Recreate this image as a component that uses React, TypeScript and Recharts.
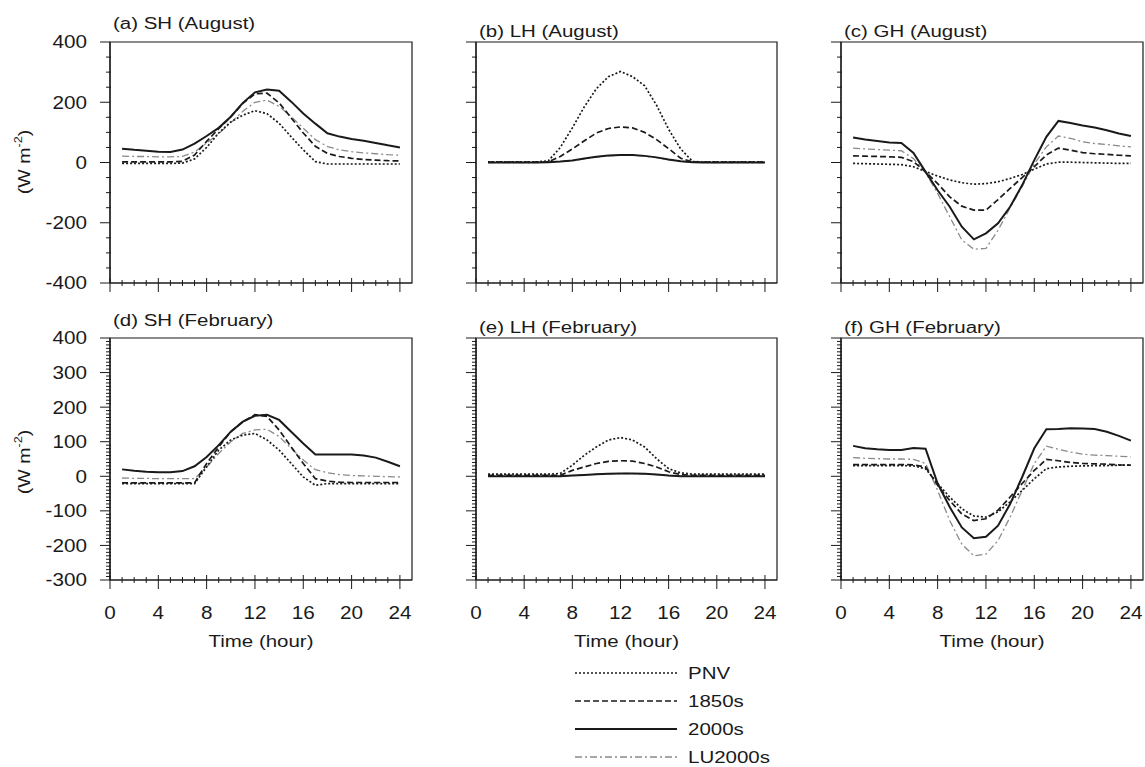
import { LineChart, Line, XAxis, YAxis, ReferenceArea } from 'recharts';

const FONT = '"Liberation Sans", Arial, Helvetica, sans-serif';
const INK = '#1a1a1a';
const STRETCH = 1.28;
const TICK_STRETCH = 1.15;

const HOURS = [1, 2, 3, 4, 5, 6, 7, 8, 9, 10, 11, 12, 13, 14, 15, 16, 17, 18, 19, 20, 21, 22, 23, 24];
const X_TICKS = [0, 1, 2, 3, 4, 5, 6, 7, 8, 9, 10, 11, 12, 13, 14, 15, 16, 17, 18, 19, 20, 21, 22, 23, 24];
const X_MAJOR = [0, 4, 8, 12, 16, 20, 24];

const TOP_Y_MAJOR = [-400, -200, 0, 200, 400];
const TOP_Y_TICKS = [-400, -350, -300, -250, -200, -150, -100, -50, 0, 50, 100, 150, 200, 250, 300, 350, 400];
const BOTTOM_Y_MAJOR = [-300, -200, -100, 0, 100, 200, 300, 400];
const BOTTOM_Y_TICKS = Array.from({ length: 71 }, (_, i) => -300 + i * 10);

// (a) SH August
const SH_AUG_PNV = [-3, -3, -3, -3, -3, -2, 12, 50, 98, 135, 157, 172, 162, 130, 85, 42, 3, -5, -5, -5, -5, -5, -5, -5];
const SH_AUG_1850 = [2, 2, 2, 2, 2, 4, 25, 70, 112, 152, 196, 228, 230, 198, 148, 98, 54, 30, 20, 14, 10, 8, 6, 5];
const SH_AUG_2000 = [46, 42, 39, 36, 35, 43, 63, 88, 115, 152, 198, 233, 242, 238, 202, 163, 129, 97, 86, 78, 72, 65, 57, 50];
const SH_AUG_LU = [21, 20, 20, 19, 19, 20, 35, 65, 96, 132, 170, 200, 207, 186, 152, 114, 76, 53, 42, 36, 32, 29, 26, 24];

// (b) LH August
const LH_AUG_PNV = [2, 2, 2, 2, 2, 5, 50, 115, 185, 245, 285, 302, 285, 255, 190, 110, 45, 3, 2, 2, 2, 2, 2, 2];
const LH_AUG_1850 = [1, 1, 1, 1, 1, 2, 20, 45, 72, 98, 113, 118, 115, 100, 76, 46, 14, 2, 1, 1, 1, 1, 1, 1];
const LH_AUG_2000 = [0, 0, 0, 0, 0, 1, 3, 7, 13, 19, 23, 25, 25, 22, 17, 10, 4, 1, 0, 0, 0, 0, 0, 0];
const LH_AUG_LU = [0, 0, 0, 0, 0, 1, 3, 6, 12, 18, 22, 24, 24, 21, 16, 9, 4, 1, 0, 0, 0, 0, 0, 0];

// (c) GH August
const GH_AUG_PNV = [-3, -4, -5, -6, -7, -14, -30, -45, -58, -67, -72, -70, -64, -53, -40, -22, -5, 1, 1, 0, -1, -2, -3, -3];
const GH_AUG_1850 = [22, 21, 20, 19, 17, 3, -31, -70, -114, -145, -158, -158, -123, -86, -50, -14, 25, 48, 41, 33, 29, 27, 24, 22];
const GH_AUG_2000 = [83, 76, 71, 66, 65, 32, -31, -92, -147, -213, -255, -235, -202, -147, -75, 8, 85, 138, 131, 123, 116, 107, 96, 88];
const GH_AUG_LU = [48, 45, 43, 41, 39, 13, -33, -103, -180, -257, -288, -285, -225, -150, -80, -5, 52, 88, 80, 69, 63, 60, 55, 52];

// (d) SH February
const SH_FEB_PNV = [-21, -21, -21, -21, -21, -21, -21, 27, 76, 105, 119, 124, 105, 76, 37, -2, -26, -21, -21, -21, -21, -21, -21, -21];
const SH_FEB_1850 = [-19, -19, -19, -19, -19, -19, -19, 37, 85, 129, 158, 178, 173, 134, 85, 37, -7, -14, -17, -18, -18, -18, -18, -18];
const SH_FEB_2000 = [20, 16, 13, 12, 12, 15, 29, 56, 90, 129, 158, 175, 178, 163, 129, 95, 63, 63, 63, 63, 60, 54, 42, 29];
const SH_FEB_LU = [-5, -6, -6, -7, -7, -7, -7, 27, 66, 100, 124, 134, 136, 115, 81, 47, 19, 10, 5, 2, 1, 0, -1, -2];

// (e) LH February
const LH_FEB_PNV = [6, 6, 6, 6, 6, 6, 8, 32, 61, 85, 105, 112, 105, 85, 51, 22, 10, 6, 6, 6, 6, 6, 6, 6];
const LH_FEB_1850 = [3, 3, 3, 3, 3, 3, 3, 17, 27, 37, 43, 45, 44, 37, 27, 13, 5, 3, 3, 3, 3, 3, 3, 3];
const LH_FEB_2000 = [0, 0, 0, 0, 0, 0, 0, 2, 4, 6, 7, 8, 8, 7, 5, 2, 0, 0, 0, 0, 0, 0, 0, 0];
const LH_FEB_LU = [0, 0, 0, 0, 0, 0, 0, 2, 4, 6, 7, 8, 8, 7, 5, 2, 0, 0, 0, 0, 0, 0, 0, 0];

// (f) GH February
const GH_FEB_PNV = [31, 31, 31, 31, 31, 30, 22, -21, -60, -94, -115, -118, -103, -74, -41, -7, 22, 27, 29, 30, 31, 31, 32, 32];
const GH_FEB_1850 = [34, 34, 34, 34, 34, 33, 27, -26, -70, -109, -128, -123, -98, -60, -21, 17, 49, 45, 40, 37, 36, 35, 33, 32];
const GH_FEB_2000 = [88, 81, 78, 76, 76, 82, 80, -21, -89, -148, -179, -175, -143, -80, -2, 81, 136, 137, 139, 138, 137, 129, 117, 103];
const GH_FEB_LU = [54, 52, 51, 50, 50, 49, 37, -41, -128, -196, -230, -225, -186, -118, -41, 37, 87, 78, 70, 64, 61, 60, 58, 56];

// drawing order: grey first so the black lines sit on top
const SERIES = [
  { key: 'lu', name: 'LU2000s', stroke: '#8a8a8a', width: 1.3, dash: '7 3 2 3' },
  { key: 'pnv', name: 'PNV', stroke: INK, width: 1.7, dash: '2 2' },
  { key: 'y1850', name: '1850s', stroke: INK, width: 1.7, dash: '6 3' },
  { key: 'y2000', name: '2000s', stroke: INK, width: 2, dash: undefined },
];
const LEGEND_ORDER = ['pnv', 'y1850', 'y2000', 'lu'];

const PANELS = [
  { id: 'a', title: '(a) SH (August)', pnv: SH_AUG_PNV, y1850: SH_AUG_1850, y2000: SH_AUG_2000, lu: SH_AUG_LU, row: 0, col: 0 },
  { id: 'b', title: '(b) LH (August)', pnv: LH_AUG_PNV, y1850: LH_AUG_1850, y2000: LH_AUG_2000, lu: LH_AUG_LU, row: 0, col: 1 },
  { id: 'c', title: '(c) GH (August)', pnv: GH_AUG_PNV, y1850: GH_AUG_1850, y2000: GH_AUG_2000, lu: GH_AUG_LU, row: 0, col: 2 },
  { id: 'd', title: '(d) SH (February)', pnv: SH_FEB_PNV, y1850: SH_FEB_1850, y2000: SH_FEB_2000, lu: SH_FEB_LU, row: 1, col: 0 },
  { id: 'e', title: '(e) LH (February)', pnv: LH_FEB_PNV, y1850: LH_FEB_1850, y2000: LH_FEB_2000, lu: LH_FEB_LU, row: 1, col: 1 },
  { id: 'f', title: '(f) GH (February)', pnv: GH_FEB_PNV, y1850: GH_FEB_1850, y2000: GH_FEB_2000, lu: GH_FEB_LU, row: 1, col: 2 },
];

// plot boxes
const COL_X = [110, 476, 841];
const COL_W = [302, 301, 302];
const ROW_Y = [42, 338];
const ROW_H = [241, 242];
const ROW_DOMAIN = [[-400, 400], [-300, 400]];
const ROW_TICKS = [TOP_Y_TICKS, BOTTOM_Y_TICKS];
const ROW_MAJOR = [TOP_Y_MAJOR, BOTTOM_Y_MAJOR];
const TITLE_BASE = [[29, 37, 37], [326, 333, 333]];
const YLABEL_MID = [162, 462];

const PAD_L = 70;
const PAD_T = 10;
const PAD_R = 10;
const PAD_B = 50;

function XTick(props: any) {
  const { x, y, payload, showLabel } = props;
  const v = payload.value;
  const major = X_MAJOR.includes(v);
  return (
    <g>
      <line x1={x} x2={x} y1={y - (major ? 5 : 3)} y2={y + (major ? 9 : 3)} stroke={INK} strokeWidth={1} />
      {major && showLabel && (
        <g transform={`translate(${x},${y + 33}) scale(${TICK_STRETCH},1)`}>
          <text x={0} y={0} textAnchor="middle" dominantBaseline="central" fontSize={18} fontFamily={FONT} fill={INK}>
            {v}
          </text>
        </g>
      )}
    </g>
  );
}

function YTick(props: any) {
  const { x, y, payload, showLabel, major } = props;
  const v = payload.value;
  const isMajor = major.includes(v);
  return (
    <g>
      <line x1={x - (isMajor ? 10 : 4)} x2={x + (isMajor ? 0 : 1)} y1={y} y2={y} stroke={INK} strokeWidth={1} />
      {isMajor && showLabel && (
        <g transform={`translate(${x - 23},${y}) scale(${TICK_STRETCH},1)`}>
          <text x={0} y={0} textAnchor="end" dominantBaseline="central" fontSize={18} fontFamily={FONT} fill={INK}>
            {v}
          </text>
        </g>
      )}
    </g>
  );
}

function Panel({ p }: { p: (typeof PANELS)[number] }) {
  const w = COL_W[p.col];
  const h = ROW_H[p.row];
  const domain = ROW_DOMAIN[p.row];
  const data = HOURS.map((hour, i) => ({
    hour,
    pnv: p.pnv[i],
    y1850: p.y1850[i],
    y2000: p.y2000[i],
    lu: p.lu[i],
  }));

  return (
    <div style={{ position: 'absolute', left: COL_X[p.col] - PAD_L, top: ROW_Y[p.row] - PAD_T }}>
      <LineChart
        width={w + PAD_L + PAD_R}
        height={h + PAD_T + PAD_B}
        data={data}
        margin={{ top: PAD_T, right: PAD_R, bottom: 0, left: 0 }}
      >
        <XAxis
          type="number"
          dataKey="hour"
          domain={[0, 25]}
          ticks={X_TICKS}
          interval={0}
          height={PAD_B}
          tickLine={false}
          tickSize={0}
          tickMargin={0}
          axisLine={{ stroke: INK, strokeWidth: 1.2 }}
          tick={(t: any) => <XTick {...t} showLabel={p.row === 1} />}
          allowDataOverflow
        />
        <YAxis
          type="number"
          domain={domain}
          ticks={ROW_TICKS[p.row]}
          interval={0}
          width={PAD_L}
          tickLine={false}
          tickSize={0}
          tickMargin={0}
          axisLine={{ stroke: INK, strokeWidth: 1.2 }}
          tick={(t: any) => <YTick {...t} showLabel={p.col === 0} major={ROW_MAJOR[p.row]} />}
          allowDataOverflow
        />
        <ReferenceArea
          x1={0}
          x2={25}
          y1={domain[0]}
          y2={domain[1]}
          fill="none"
          fillOpacity={0}
          stroke={INK}
          strokeWidth={1.2}
          ifOverflow="visible"
        />
        {SERIES.map((s) => (
          <Line
            key={s.key}
            type="linear"
            dataKey={s.key}
            name={s.name}
            stroke={s.stroke}
            strokeWidth={s.width}
            strokeDasharray={s.dash}
            dot={false}
            activeDot={false}
            isAnimationActive={false}
          />
        ))}
      </LineChart>
    </div>
  );
}

function Overlay() {
  const legendY = [673, 701, 729, 757];
  return (
    <svg
      width={1145}
      height={767}
      style={{ position: 'absolute', left: 0, top: 0, pointerEvents: 'none' }}
      fontFamily={FONT}
      fill={INK}
    >
      {PANELS.map((p) => (
        <g key={p.id} transform={`translate(${COL_X[p.col] + 3},${TITLE_BASE[p.row][p.col]}) scale(${STRETCH},1)`}>
          <text x={0} y={0} fontSize={16}>
            {p.title}
          </text>
        </g>
      ))}
      {YLABEL_MID.map((ym, r) => (
        <g key={r} transform={`translate(30,${ym}) rotate(-90) scale(1.15,1)`}>
          <text x={0} y={0} fontSize={17} textAnchor="middle">
            (W m<tspan fontSize={11} dy={-8}>-2</tspan>
            <tspan dy={8}>)</tspan>
          </text>
        </g>
      ))}
      {COL_X.map((x0, c) => (
        <g key={c} transform={`translate(${x0 + COL_W[c] / 2},647) scale(${STRETCH},1)`}>
          <text x={0} y={0} fontSize={16} textAnchor="middle">
            Time (hour)
          </text>
        </g>
      ))}
      {LEGEND_ORDER.map((k, i) => {
        const s = SERIES.find((q) => q.key === k)!;
        return (
          <g key={k}>
            <line
              x1={575}
              x2={677}
              y1={legendY[i]}
              y2={legendY[i]}
              stroke={s.stroke}
              strokeWidth={s.width}
              strokeDasharray={s.dash}
            />
            <g transform={`translate(688,${legendY[i]}) scale(${STRETCH},1)`}>
              <text x={0} y={0} fontSize={16} dominantBaseline="central">
                {s.name}
              </text>
            </g>
          </g>
        );
      })}
    </svg>
  );
}

export default function App() {
  return (
    <div style={{ position: 'absolute', left: 0, top: 0, width: 1145, height: 767, background: '#fff' }}>
      {PANELS.map((p) => (
        <Panel key={p.id} p={p} />
      ))}
      <Overlay />
    </div>
  );
}
